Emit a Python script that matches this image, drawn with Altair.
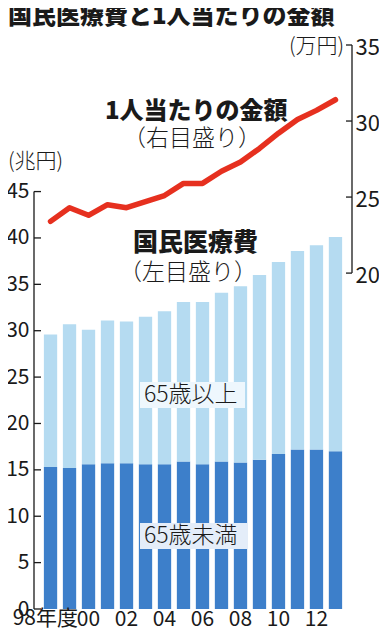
import altair as alt
import pandas as pd

# ---- data ----
years = ["1998", "1999", "2000", "2001", "2002", "2003", "2004", "2005",
         "2006", "2007", "2008", "2009", "2010", "2011", "2012", "2013"]
under65 = [15.3, 15.2, 15.6, 15.7, 15.7, 15.6, 15.6, 15.9,
           15.6, 15.9, 15.8, 16.1, 16.7, 17.2, 17.2, 17.0]
over65 = [14.3, 15.5, 14.5, 15.4, 15.3, 15.9, 16.5, 17.2,
          17.5, 18.2, 19.0, 19.9, 20.7, 21.4, 22.0, 23.1]
per_capita = [23.4, 24.3, 23.8, 24.5, 24.3, 24.7, 25.1, 25.9,
              25.9, 26.7, 27.3, 28.2, 29.2, 30.1, 30.7, 31.4]
groups = ["65歳未満", "65歳以上"]
left_ticks = [0, 5, 10, 15, 20, 25, 30, 35, 40, 45]
right_ticks = [20, 25, 30, 35]

W, H = 318, 564
LEFT_DOMAIN = [0, 60.8]
RIGHT_DOMAIN = [-2.09, 35]
NUM_FONT = "Noto Sans CJK JP"
JP_FONT = "Noto Sans CJK JP"
INK = "#1a1a1a"

bars_df = pd.DataFrame({
    "year": years * 2,
    "value": under65 + over65,
    "group": [groups[0]] * len(years) + [groups[1]] * len(years),
    "order": [0] * len(years) + [1] * len(years),
})
line_df = pd.DataFrame({"year": years, "pc": per_capita})
lt_df = pd.DataFrame({"v": left_ticks})
rt_df = pd.DataFrame({"v": right_ticks})
one = pd.DataFrame({"a": [0]})

XLAB_PAD = 10
XLAB_SIZE = 21

xenc = alt.X(
    "year:O",
    sort=years,
    scale=alt.Scale(paddingInner=0.3, paddingOuter=0.52),
    axis=alt.Axis(
        title=None, labelAngle=0, tickSize=0, domain=False,
        labelBaseline="middle", labelPadding=XLAB_PAD,
        labelFont=NUM_FONT, labelFontSize=XLAB_SIZE,
        labelColor=INK, labelOverlap=False, labelBound=False,
        labelExpr="datum.value != '1998' && toNumber(datum.value) % 2 == 0 ? substring(datum.value, 2, 4) : ''",
    ),
)

bars = alt.Chart(bars_df).mark_bar().encode(
    x=xenc,
    y=alt.Y(
        "value:Q", stack="zero",
        scale=alt.Scale(domain=LEFT_DOMAIN, nice=False, zero=False),
        axis=alt.Axis(
            orient="left", title=None, values=left_ticks, tickSize=0,
            domain=False, grid=False, labelPadding=5, labelFont=NUM_FONT,
            labelFontSize=21, labelColor=INK,
        ),
    ),
    color=alt.Color(
        "group:N",
        scale=alt.Scale(domain=groups, range=["#3d7fca", "#b5dbf1"]),
        legend=None,
    ),
    order=alt.Order("order:Q"),
)

line = alt.Chart(line_df).mark_line(
    color="#e6301f", strokeWidth=5.5, strokeCap="round", strokeJoin="round"
).encode(
    x=alt.X("year:O", sort=years),
    y=alt.Y(
        "pc:Q",
        scale=alt.Scale(domain=RIGHT_DOMAIN, nice=False, zero=False),
        axis=alt.Axis(
            orient="right", title=None, values=right_ticks, tickSize=0,
            domain=False, grid=False, labelPadding=3, labelOffset=2,
            labelFont=NUM_FONT, labelFontSize=22, labelColor=INK,
        ),
    ),
)

# custom axis lines and inward ticks
lscale = alt.Scale(domain=LEFT_DOMAIN, nice=False, zero=False)
rscale = alt.Scale(domain=RIGHT_DOMAIN, nice=False, zero=False)

left_dom = alt.Chart(one).mark_rule(color=INK, strokeWidth=1.3).encode(
    x=alt.value(0),
    y=alt.Y("a0:Q", scale=lscale, axis=None),
    y2="a1:Q",
).transform_calculate(a0="0", a1="45")
left_tk = alt.Chart(lt_df).mark_rule(color=INK, strokeWidth=1.3).encode(
    x=alt.value(0), x2=alt.value(7),
    y=alt.Y("v:Q", scale=lscale, axis=None),
)
right_dom = alt.Chart(one).mark_rule(color=INK, strokeWidth=1.3).encode(
    x=alt.value(W),
    y=alt.Y("a0:Q", scale=rscale, axis=None),
    y2="a1:Q",
).transform_calculate(a0="20", a1="35")
right_tk = alt.Chart(rt_df).mark_rule(color=INK, strokeWidth=1.3).encode(
    x=alt.value(W - 6), x2=alt.value(W),
    y=alt.Y("v:Q", scale=rscale, axis=None),
)


def box(x1, x2, y1, y2, color):
    return alt.Chart(one).mark_rect(color=color).encode(
        x=alt.value(x1), x2=alt.value(x2), y=alt.value(y1), y2=alt.value(y2)
    )


def label(text, x, y, size, weight="normal", font=JP_FONT, align="left"):
    return alt.Chart(one).mark_text(
        text=text, font=font, fontSize=size, fontWeight=weight,
        align=align, baseline="middle", color=INK,
    ).encode(x=alt.value(x), y=alt.value(y))


layers = [
    bars, line, left_dom, left_tk, right_dom, right_tk,
    box(106, 211, 337, 363, "#eef7fd"),
    box(106, 213, 478, 504, "#e4edf9"),
    label("65歳以上", 110, 350, 23, 300),
    label("65歳未満", 110, 491, 23, 300),
    label("国民医療費と1人当たりの金額", -26, -28, 24, 900),
    label("(万円)", 255, 2, 21, 300),
    label("1人当たりの金額", 71, 67, 24, 900),
    label("（右目盛り）", 89, 94, 23, 300),
    label("(兆円)", -26, 117, 21, 300),
    label("国民医療費", 99, 198, 25, 900),
    label("（左目盛り）", 85, 228, 23, 300),
    label("98年度", 44, H + XLAB_PAD, XLAB_SIZE, "normal", NUM_FONT, "right"),
]

chart = alt.layer(*layers).resolve_scale(y="independent").properties(
    width=W, height=H,
    padding={"left": 26, "top": 37, "right": 27, "bottom": 22},
    autosize=alt.AutoSizeParams(type="none"),
    background="white",
).configure_view(stroke=None)

chart.save("out.html", embed_options={"renderer": "svg", "actions": False})
